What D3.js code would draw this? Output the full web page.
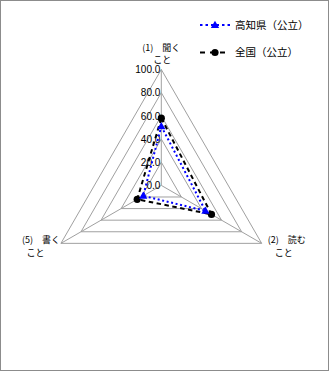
<!DOCTYPE html>
<html>
<head>
<meta charset="utf-8">
<script src="https://cdn.jsdelivr.net/npm/d3@7"></script>
<style>
    body { margin: 0; background: #fff; }
    svg text { font-family: "Liberation Sans", "Noto Sans CJK JP", sans-serif; fill: #000; }
</style>
</head>
<body>
<div id="radar"></div>
<script>
// radar chart: kochi vs national (public schools)

const categories = [
    ["(1)\u3000聞く", "こと"],
    ["(2)\u3000読む", "こと"],
    ["(5)\u3000書く", "こと"]
];

const tickValues = [0, 20, 40, 60, 80, 100];
const tickLabels = ["0.0", "20.0", "40.0", "60.0", "80.0", "100.0"];

const kochiValues = [51, 44, 18];
const nationalValues = [58, 50, 24];

const seriesNames = ["高知県（公立）", "全国（公立）"];

// label offsets relative to each outer vertex: [line1 dx, line1 dy, line2 dx, line2 dy]
const labelOffsets = [
    [0, -22, 1, -9.5],
    [25, -4, 22, 9],
    [-20, -4, -25.5, 9]
];

const width = 334, height = 376;
const cx = 161.3, cy = 185.4;

let svg = d3.select("#radar").
append("svg").
attr("width", width).
attr("height", height);

// outer border
svg.append("rect").
attr("x", 0.5).
attr("y", 0.5).
attr("width", 328).
attr("height", 370).
attr("fill", "none").
attr("stroke", "#8c8c8c").
attr("stroke-width", 1);

let rScale = d3.scaleLinear().
domain([0, 100]).
range([0, 115.9]);

let angleScale = d3.scaleLinear().
domain([0, categories.length]).
range([-Math.PI / 2, Math.PI * 3 / 2]);

let point = (i, v) => [
    cx + rScale(v) * Math.cos(angleScale(i)),
    cy + rScale(v) * Math.sin(angleScale(i))
];

let g = svg.append("g");

// grid triangles
g.selectAll(".grid").
data(tickValues.filter(t => t > 0)).
enter().
append("polygon").
attr("class", "grid").
attr("points", t => categories.map((c, i) => point(i, t).join(",")).join(" ")).
attr("fill", "none").
attr("stroke", "#a0a0a0").
attr("stroke-width", 1);

// spokes
g.selectAll(".spoke").
data(categories).
enter().
append("line").
attr("class", "spoke").
attr("x1", cx).
attr("y1", cy).
attr("x2", (d, i) => point(i, 100)[0]).
attr("y2", (d, i) => point(i, 100)[1]).
attr("stroke", "#a0a0a0").
attr("stroke-width", 1);

// value labels
g.selectAll(".tick").
data(tickValues).
enter().
append("text").
attr("class", "tick").
attr("x", cx - 1).
attr("y", t => cy - rScale(t)).
attr("dy", "0.38em").
attr("text-anchor", "end").
style("font-size", "10px").
text((t, i) => tickLabels[i]);

// category labels
categories.forEach((lines, i) => {
    let [vx, vy] = point(i, 100);
    let off = labelOffsets[i];
    lines.forEach((line, j) => {
        g.append("text").
        attr("x", vx + off[j * 2]).
        attr("y", vy + off[j * 2 + 1]).
        attr("dy", "0.35em").
        attr("text-anchor", "middle").
        style("font-size", "9px").
        style("font-family", "'Noto Sans CJK JP', sans-serif").
        text(line);
    });
});

const series = [
    { name: seriesNames[0], values: kochiValues, color: "#0000ff", dash: "2,2.6", marker: "triangle" },
    { name: seriesNames[1], values: nationalValues, color: "#000000", dash: "4.5,3.5", marker: "circle" }
];

let lineGen = d3.line().curve(d3.curveLinearClosed);

let drawMarker = (sel, s, x, y) => {
    if (s.marker === "triangle") {
        sel.append("path").
        attr("d", d3.symbol(d3.symbolTriangle, 30)()).
        attr("transform", "translate(" + x + "," + (y + 0.5) + ")").
        attr("fill", s.color);
    } else {
        sel.append("circle").
        attr("cx", x).
        attr("cy", y).
        attr("r", 3.6).
        attr("fill", s.color);
    }
};

// series drawn national first so kochi sits on top of it
series.slice().reverse().forEach(s => {
    let pts = s.values.map((v, i) => point(i, v));
    g.append("path").
    attr("d", lineGen(pts)).
    attr("fill", "none").
    attr("stroke", s.color).
    attr("stroke-width", 2).
    attr("stroke-dasharray", s.dash);
    pts.forEach(p => drawMarker(g, s, p[0], p[1]));
});

// legend
let legend = svg.selectAll(".legend").
data(series).
enter().
append("g").
attr("class", "legend").
attr("transform", (d, i) => "translate(200," + (25 + i * 27.5) + ")");

legend.append("line").
attr("x1", 0).
attr("x2", 30).
attr("y1", 0).
attr("y2", 0).
attr("stroke", d => d.color).
attr("stroke-width", 2).
attr("stroke-dasharray", (d, i) => i === 0 ? "2.5,3" : "5,5");

legend.each(function (d) {
    drawMarker(d3.select(this), d, 15, 0);
});

legend.append("text").
attr("x", 35).
attr("y", 0).
attr("dy", "0.35em").
style("font-size", "10.5px").
style("font-family", "'Noto Sans CJK JP', sans-serif").
text(d => d.name);
</script>
</body>
</html>
